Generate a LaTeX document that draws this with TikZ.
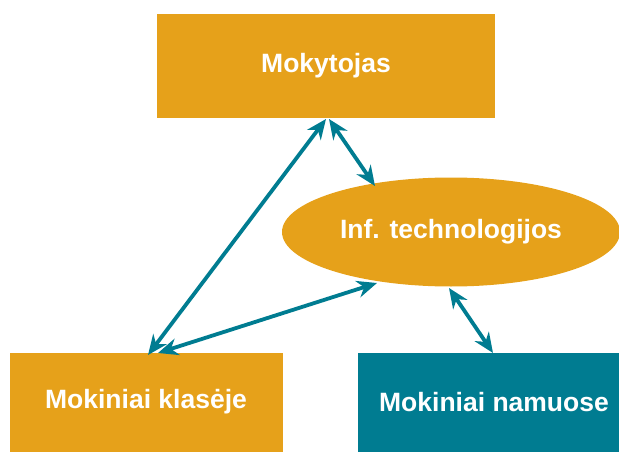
\documentclass[tikz,border=0pt]{standalone}
\usepackage{fontspec}
\setmainfont{Liberation Sans}
\usetikzlibrary{shapes.geometric,arrows.meta}
\definecolor{orng}{HTML}{E6A11A}
\definecolor{teal2}{HTML}{007C91}
\begin{document}
\begin{tikzpicture}[x=1pt,y=-1pt,
  lbl/.style={text=white,font=\fontsize{26.5}{30}\selectfont\bfseries},
  link/.style={draw=teal2,line width=3.8pt,{Stealth[length=20pt,width=17pt]}-{Stealth[length=20pt,width=17pt]}}]
\useasboundingbox (0,0) rectangle (619,452);
\fill[orng] (157,14) rectangle (495,118);
\node[lbl] (mok) at (326,66) {Mokytojas};
\fill[orng] (10,353) rectangle (283,452);
\node[lbl] (kl) at (146,402) {Mokiniai klasėje};
\fill[teal2] (358,353) rectangle (619,452);
\node[lbl] (nam) at (494,402) {Mokiniai namuose};
\node[ellipse,fill=orng,minimum width=338pt,minimum height=109pt,inner sep=0pt,lbl] (it) at (451,232) {Inf. technologijos};
\coordinate (a1) at (326,119);
\coordinate (a2) at (148,355);
\coordinate (b1) at (329,119);
\coordinate (b2) at (375,186);
\coordinate (c1) at (158,353);
\coordinate (c2) at (377,283);
\coordinate (d1) at (449,288);
\coordinate (d2) at (493,353);
\draw[link] (a1) -- (a2);
\draw[link] (b1) -- (b2);
\draw[link] (c1) -- (c2);
\draw[link] (d1) -- (d2);
\end{tikzpicture}
\end{document}
